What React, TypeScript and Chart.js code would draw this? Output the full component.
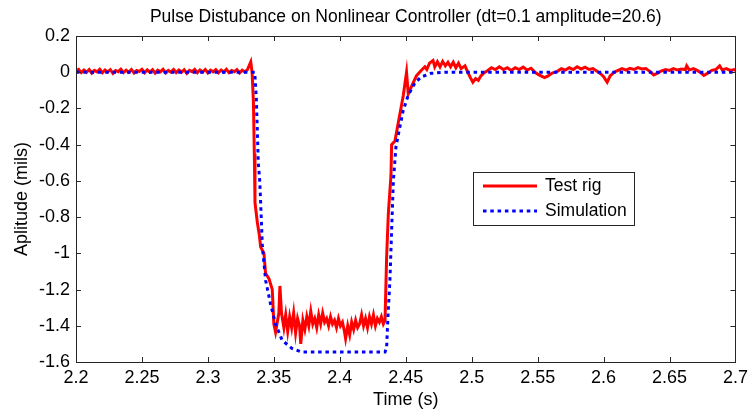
import React, { useEffect, useRef } from "react";
import { Chart, registerables } from "chart.js";

Chart.register(...registerables);

const titleText = "Pulse Distubance on Nonlinear Controller (dt=0.1 amplitude=20.6)";
const xAxisTitle = "Time (s)";
const yAxisTitle = "Aplitude (mils)";
const seriesNames = ["Test rig", "Simulation"];

const xTickValues = [2.2, 2.25, 2.3, 2.35, 2.4, 2.45, 2.5, 2.55, 2.6, 2.65, 2.7];
const yTickValues = [0.2, 0, -0.2, -0.4, -0.6, -0.8, -1, -1.2, -1.4, -1.6];

// Test rig measurement: [time (s), amplitude (mils)]
const testRig: [number, number][] = [
  [2.200, 0.008], [2.202, 0.016], [2.204, -0.002], [2.206, 0.012], [2.208, 0.000],
  [2.210, 0.015], [2.212, -0.005], [2.214, 0.010], [2.216, 0.002], [2.218, 0.016],
  [2.220, -0.003], [2.222, 0.012], [2.224, 0.001], [2.226, 0.014], [2.228, -0.006],
  [2.230, 0.009], [2.232, 0.003], [2.234, 0.017], [2.236, -0.002], [2.238, 0.011],
  [2.240, 0.000], [2.242, 0.015], [2.244, -0.004], [2.246, 0.010], [2.248, 0.004],
  [2.250, 0.016], [2.252, -0.003], [2.254, 0.013], [2.256, 0.000], [2.258, 0.014],
  [2.260, -0.005], [2.262, 0.011], [2.264, 0.002], [2.266, 0.016], [2.268, -0.004],
  [2.270, 0.010], [2.272, 0.001], [2.274, 0.015], [2.276, -0.002], [2.278, 0.012],
  [2.280, 0.000], [2.282, 0.014], [2.284, -0.006], [2.286, 0.010], [2.288, 0.003],
  [2.290, 0.016], [2.292, -0.003], [2.294, 0.012], [2.296, 0.001], [2.298, 0.015],
  [2.300, -0.004], [2.302, 0.011], [2.304, 0.002], [2.306, 0.014], [2.308, -0.003],
  [2.310, 0.012], [2.312, 0.000], [2.314, 0.016], [2.316, -0.002], [2.318, 0.010],
  [2.320, 0.003], [2.322, 0.014], [2.324, -0.004], [2.326, 0.011], [2.328, 0.002],
  [2.330, 0.014], [2.3325, 0.057], [2.3335, 0.0], [2.3345, -0.16], [2.3352, -0.45],
  [2.3357, -0.72], [2.3375, -0.83], [2.339, -0.90], [2.340, -0.965], [2.3425, -1.0],
  [2.3437, -1.11], [2.3463, -1.14], [2.3488, -1.2], [2.350, -1.39], [2.3513, -1.435],
  [2.3538, -1.33], [2.3546, -1.18], [2.3558, -1.33], [2.3576, -1.41],
  [2.359, -1.34], [2.3605, -1.43], [2.362, -1.35], [2.3635, -1.41], [2.365, -1.33],
  [2.3665, -1.44], [2.368, -1.36], [2.3695, -1.40], [2.3704, -1.50], [2.372, -1.37],
  [2.3735, -1.42], [2.375, -1.35], [2.3765, -1.40], [2.378, -1.32], [2.3795, -1.39],
  [2.381, -1.36], [2.3825, -1.41], [2.384, -1.34], [2.3855, -1.39], [2.387, -1.33],
  [2.3885, -1.38], [2.390, -1.36], [2.3915, -1.40], [2.393, -1.35], [2.3945, -1.39],
  [2.396, -1.37], [2.3975, -1.41], [2.399, -1.36], [2.4005, -1.40], [2.402, -1.38],
  [2.4035, -1.43], [2.4044, -1.47], [2.406, -1.40], [2.4075, -1.45], [2.409, -1.38],
  [2.4105, -1.42], [2.412, -1.37], [2.4135, -1.41], [2.415, -1.39], [2.4165, -1.34],
  [2.418, -1.40], [2.4195, -1.36], [2.421, -1.41], [2.4225, -1.35], [2.424, -1.39],
  [2.4255, -1.34], [2.427, -1.40], [2.4285, -1.36], [2.430, -1.38], [2.4315, -1.35],
  [2.433, -1.39], [2.4343, -1.37],
  [2.4355, -1.02], [2.4368, -0.78], [2.4388, -0.57], [2.4393, -0.40], [2.4418, -0.38],
  [2.4443, -0.28], [2.4481, -0.13], [2.4506, 0.0], [2.4519, -0.12], [2.4543, -0.08],
  [2.4581, -0.02], [2.4617, 0.01], [2.4645, 0.03], [2.466, 0.015], [2.468, 0.05],
  [2.4707, 0.065], [2.472, 0.03], [2.474, 0.058], [2.476, 0.03], [2.478, 0.06],
  [2.480, 0.035], [2.482, 0.055], [2.484, 0.03], [2.486, 0.055], [2.488, 0.025],
  [2.490, 0.05], [2.492, 0.02], [2.4949, 0.035], [2.497, 0.0], [2.499, -0.03],
  [2.5009, -0.055], [2.503, -0.035], [2.505, -0.045], [2.507, -0.02], [2.509, -0.005],
  [2.5122, 0.01], [2.515, 0.025], [2.518, 0.015], [2.521, 0.03], [2.524, 0.015],
  [2.527, 0.025], [2.530, 0.01], [2.533, 0.025], [2.536, 0.015], [2.539, 0.028],
  [2.542, 0.012], [2.545, 0.022], [2.548, 0.0], [2.551, -0.015], [2.5552, -0.03],
  [2.558, -0.02], [2.561, -0.005], [2.565, 0.005], [2.568, 0.02], [2.571, 0.012],
  [2.574, 0.025], [2.577, 0.015], [2.580, 0.03], [2.583, 0.018], [2.586, 0.028],
  [2.589, 0.015], [2.592, 0.02], [2.595, 0.005], [2.598, -0.01], [2.600, -0.025],
  [2.6027, -0.055], [2.605, -0.02], [2.608, 0.0], [2.611, 0.01], [2.614, 0.02],
  [2.617, 0.012], [2.620, 0.022], [2.623, 0.015], [2.626, 0.025], [2.629, 0.018],
  [2.632, 0.02], [2.635, 0.005], [2.638, -0.015], [2.641, -0.005], [2.644, 0.008],
  [2.647, 0.015], [2.650, 0.01], [2.653, 0.02], [2.656, 0.012], [2.659, 0.018],
  [2.662, 0.015], [2.663, 0.035], [2.665, 0.012], [2.668, 0.02], [2.671, 0.01],
  [2.674, -0.005], [2.676, -0.018], [2.679, -0.005], [2.682, 0.01], [2.685, 0.015],
  [2.688, 0.035], [2.690, 0.012], [2.693, 0.02], [2.696, 0.01], [2.699, 0.015],
  [2.700, 0.01],
];

// Simulation: [time (s), amplitude (mils)]
const simulation: [number, number][] = [
  [2.2, 0], [2.3355, 0], [2.3367, -0.14], [2.3382, -0.5], [2.3393, -0.6],
  [2.340, -0.72], [2.3413, -0.965], [2.3438, -1.15], [2.3475, -1.28], [2.3513, -1.39],
  [2.3563, -1.48], [2.3637, -1.525], [2.3712, -1.545], [2.4343, -1.545], [2.4355, -1.52],
  [2.4365, -1.35], [2.438, -1.15], [2.4393, -0.87], [2.4406, -0.60], [2.4426, -0.41],
  [2.4456, -0.30], [2.4481, -0.21], [2.4519, -0.127], [2.4569, -0.06], [2.4617, -0.026],
  [2.4692, -0.006], [2.48, 0], [2.7, 0],
];

const FONT = "'Liberation Sans', Arial, Helvetica, sans-serif";
const fmt = (v: number) => String(Number(v.toFixed(2)));

const framePlugin = {
  id: "matlabFrame",
  afterDatasetsDraw(chart: any) {
    const { ctx, chartArea, scales } = chart;
    const { left, right, top, bottom } = chartArea;
    const xs = scales.x;
    const ys = scales.y;
    ctx.save();
    ctx.strokeStyle = "#262626";
    ctx.lineWidth = 1;
    ctx.beginPath();
    const tl = 5;
    for (const t of xTickValues) {
      const px = Math.round(xs.getPixelForValue(t)) + 0.5;
      ctx.moveTo(px, bottom);
      ctx.lineTo(px, bottom - tl);
      ctx.moveTo(px, top);
      ctx.lineTo(px, top + tl);
    }
    for (const v of yTickValues) {
      const py = Math.round(ys.getPixelForValue(v)) + 0.5;
      ctx.moveTo(left, py);
      ctx.lineTo(left + tl, py);
      ctx.moveTo(right, py);
      ctx.lineTo(right - tl, py);
    }
    ctx.stroke();
    ctx.strokeRect(Math.round(left) + 0.5, Math.round(top) + 0.5, Math.round(right - left), Math.round(bottom - top));

    // legend box
    const lx = 473.5, ly = 172.5, lw = 161, lh = 53;
    ctx.fillStyle = "#ffffff";
    ctx.fillRect(lx, ly, lw, lh);
    ctx.strokeStyle = "#262626";
    ctx.strokeRect(lx, ly, lw, lh);
    ctx.lineWidth = 3;
    ctx.strokeStyle = "rgb(255,0,0)";
    ctx.beginPath();
    ctx.moveTo(483, 186);
    ctx.lineTo(537, 186);
    ctx.stroke();
    ctx.strokeStyle = "rgb(0,0,255)";
    ctx.setLineDash([3.5, 3.8]);
    ctx.beginPath();
    ctx.moveTo(483, 211);
    ctx.lineTo(537, 211);
    ctx.stroke();
    ctx.setLineDash([]);
    ctx.fillStyle = "#000000";
    ctx.font = `17.5px ${FONT}`;
    ctx.textAlign = "left";
    ctx.textBaseline = "middle";
    ctx.fillText(seriesNames[0], 545, 186);
    ctx.fillText(seriesNames[1], 545, 211);
    ctx.restore();
  },
};

export default function App() {
  const ref = useRef<HTMLCanvasElement | null>(null);
  useEffect(() => {
    document.body.style.margin = "0";
    const canvas = ref.current;
    if (!canvas) return;
    const chart = new Chart(canvas, {
      type: "line",
      data: {
        datasets: [
          {
            label: seriesNames[0],
            data: testRig.map(([x, y]) => ({ x, y })),
            borderColor: "rgb(255,0,0)",
            borderWidth: 3,
            pointRadius: 0,
            tension: 0,
            fill: false,
            order: 2,
          },
          {
            label: seriesNames[1],
            data: simulation.map(([x, y]) => ({ x, y })),
            borderColor: "rgb(0,0,255)",
            borderWidth: 3,
            borderDash: [3.5, 3.8],
            borderCapStyle: "butt",
            pointRadius: 0,
            tension: 0,
            fill: false,
            order: 1,
          },
        ],
      },
      options: {
        responsive: false,
        animation: false,
        devicePixelRatio: 1,
        layout: { padding: { left: 0, right: 14, top: 0, bottom: 0 } },
        plugins: {
          legend: { display: false },
          tooltip: { enabled: false },
          title: {
            display: true,
            text: titleText,
            fullSize: false,
            color: "#000",
            font: { family: FONT, size: 17.5, weight: "normal" },
            padding: { top: 7, bottom: 8 },
          },
        },
        scales: {
          x: {
            type: "linear",
            min: 2.2,
            max: 2.7,
            afterFit: (s: any) => { s.height = 53; },
            afterBuildTicks: (s: any) => { s.ticks = xTickValues.map((v) => ({ value: v })); },
            grid: { display: false, drawTicks: false },
            border: { display: false },
            ticks: {
              color: "#000",
              font: { family: FONT, size: 18 },
              padding: 5,
              maxRotation: 0,
              autoSkip: false,
              callback: (v: any) => fmt(Number(v)),
            },
            title: {
              display: true,
              text: xAxisTitle,
              color: "#000",
              font: { family: FONT, size: 18 },
              padding: { top: 0, bottom: 4 },
            },
          },
          y: {
            type: "linear",
            min: -1.6,
            max: 0.2,
            afterFit: (s: any) => { s.width = 76; },
            afterBuildTicks: (s: any) => { s.ticks = yTickValues.map((v) => ({ value: v })); },
            grid: { display: false, drawTicks: false },
            border: { display: false },
            ticks: {
              color: "#000",
              font: { family: FONT, size: 18 },
              padding: 6,
              autoSkip: false,
              callback: (v: any) => fmt(Number(v)),
            },
            title: {
              display: true,
              text: yAxisTitle,
              color: "#000",
              font: { family: FONT, size: 18 },
              padding: { top: 11, bottom: 0 },
            },
          },
        },
      },
      plugins: [framePlugin],
    } as any);
    return () => chart.destroy();
  }, []);
  return <canvas ref={ref} width={753} height={415} style={{ display: "block" }} />;
}
